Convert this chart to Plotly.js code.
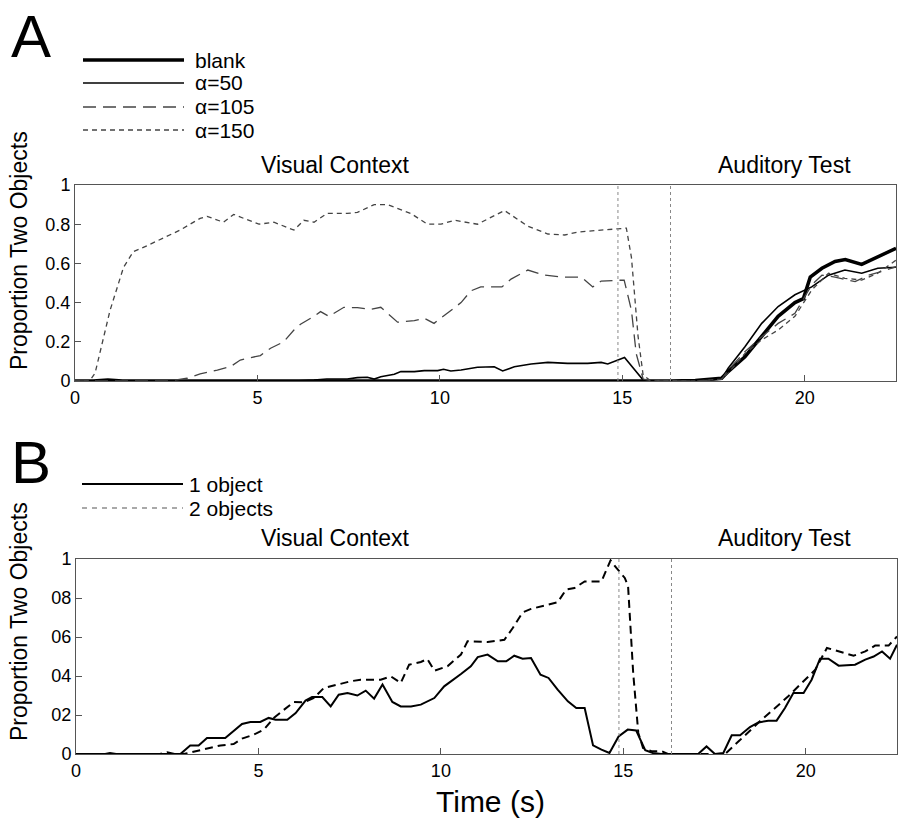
<!DOCTYPE html>
<html><head><meta charset="utf-8">
<script src="https://cdn.plot.ly/plotly-3.0.1.min.js"></script>
<style>html,body{margin:0;padding:0;background:#fff}#chart{width:909px;height:825px}</style>
</head><body><div id="chart"></div>
<script>
// ---------- Data ----------
const xTicks = [0, 5, 10, 15, 20];
const yTicks = [0, 0.2, 0.4, 0.6, 0.8, 1];
const yTickTextA = ['0', '0.2', '0.4', '0.6', '0.8', '1'];
const yTickTextB = ['0', '02', '04', '06', '08', '1'];
const phaseBoundaries = [14.88, 16.32];
const phaseLabels = ['Visual Context', 'Auditory Test'];

// Panel A
const namesA = ['blank', 'α=50', 'α=105', 'α=150'];
const tBlank = [0, 0.5, 0.9, 1.3, 16.3, 17.0, 17.72, 17.9, 18.36, 18.82, 19.27, 19.73, 19.96, 20.15, 20.47, 20.83, 21.11, 21.56, 22.02, 22.5];
const vBlank = [0, 0, 0.005, 0, 0, 0.003, 0.014, 0.048, 0.124, 0.226, 0.33, 0.40, 0.42, 0.53, 0.575, 0.61, 0.62, 0.595, 0.634, 0.677];

const tA50 = [0, 6.0, 6.55, 6.9, 7.46, 7.74, 8.01, 8.2, 8.38, 8.75, 8.93, 9.3, 9.57, 9.94, 10.1, 10.3, 10.58, 11.03, 11.49, 11.72, 12.04, 12.5, 12.96, 13.5, 14.05, 14.42, 14.6, 15.06, 15.57, 15.66, 17.0, 17.72, 17.9, 18.36, 18.82, 19.27, 19.73, 20.19, 20.65, 21.1, 21.56, 22.0, 22.5];
const vA50 = [0, 0, 0.005, 0.01, 0.01, 0.017, 0.019, 0.01, 0.022, 0.034, 0.048, 0.048, 0.053, 0.053, 0.06, 0.051, 0.056, 0.07, 0.073, 0.051, 0.073, 0.087, 0.095, 0.09, 0.09, 0.095, 0.087, 0.12, 0.005, 0, 0, 0.01, 0.065, 0.175, 0.294, 0.38, 0.44, 0.48, 0.54, 0.566, 0.55, 0.575, 0.58];

const tA105 = [0, 2.6, 3.07, 3.43, 3.9, 4.26, 4.53, 4.9, 5.08, 5.36, 5.72, 6.0, 6.18, 6.55, 6.73, 6.96, 7.37, 7.74, 8.1, 8.38, 8.84, 9.3, 9.57, 9.84, 10.1, 10.58, 10.85, 11.12, 11.7, 11.95, 12.41, 12.87, 13.33, 13.88, 14.19, 14.42, 15.05, 15.25, 15.38, 15.57, 15.84, 17.0, 17.72, 17.9, 18.36, 18.82, 19.27, 19.73, 20.19, 20.47, 20.83, 21.38, 21.74, 22.1, 22.5];
const vA105 = [0, 0, 0.014, 0.036, 0.056, 0.073, 0.107, 0.12, 0.13, 0.167, 0.20, 0.26, 0.29, 0.33, 0.354, 0.33, 0.376, 0.374, 0.366, 0.376, 0.30, 0.308, 0.32, 0.294, 0.33, 0.40, 0.46, 0.48, 0.48, 0.52, 0.566, 0.54, 0.53, 0.53, 0.48, 0.51, 0.515, 0.36, 0.14, 0.01, 0, 0, 0.008, 0.055, 0.15, 0.226, 0.294, 0.345, 0.49, 0.54, 0.53, 0.507, 0.54, 0.558, 0.583];

const tA150 = [0, 0.4, 0.55, 0.96, 1.33, 1.6, 1.97, 2.61, 2.88, 3.43, 3.62, 4.07, 4.35, 4.62, 5.04, 5.45, 6.0, 6.27, 6.55, 6.91, 7.46, 7.74, 8.2, 8.56, 9.2, 9.66, 10.03, 10.4, 11.03, 11.77, 12.41, 12.96, 13.42, 13.78, 14.42, 15.11, 15.25, 15.43, 15.57, 15.75, 17.0, 17.72, 17.9, 18.36, 18.82, 19.27, 19.73, 20.19, 20.65, 21.1, 21.56, 22.0, 22.38, 22.5];
const vA150 = [0, 0, 0.04, 0.36, 0.58, 0.66, 0.69, 0.745, 0.77, 0.83, 0.84, 0.81, 0.85, 0.83, 0.80, 0.81, 0.77, 0.82, 0.81, 0.855, 0.855, 0.86, 0.90, 0.90, 0.855, 0.80, 0.80, 0.82, 0.80, 0.87, 0.79, 0.75, 0.745, 0.76, 0.77, 0.78, 0.63, 0.23, 0.03, 0.005, 0, 0.01, 0.04, 0.14, 0.21, 0.26, 0.33, 0.464, 0.55, 0.524, 0.515, 0.55, 0.60, 0.617];

// Panel B
const namesB = ['1 object', '2 objects'];
const tOne = [0, 0.8, 0.93, 1.1, 2.86, 3.13, 3.36, 3.59, 4.09, 4.32, 4.55, 4.78, 5.05, 5.28, 5.47, 5.79, 6.02, 6.29, 6.47, 6.75, 6.98, 7.2, 7.44, 7.71, 7.94, 8.17, 8.4, 8.67, 8.9, 9.18, 9.45, 9.82, 10.09, 10.55, 10.82, 11.01, 11.28, 11.56, 11.79, 12.01, 12.24, 12.47, 12.73, 12.95, 13.2, 13.48, 13.71, 13.94, 14.17, 14.4, 14.62, 14.87, 15.12, 15.35, 15.6, 15.81, 16.04, 17.05, 17.28, 17.51, 17.74, 17.97, 18.2, 18.47, 18.7, 18.97, 19.2, 19.43, 19.66, 19.94, 20.16, 20.39, 20.62, 20.9, 21.35, 21.63, 21.86, 22.09, 22.31, 22.5];
const vOne = [0, 0, 0.005, 0, 0, 0.043, 0.043, 0.082, 0.082, 0.116, 0.154, 0.164, 0.164, 0.185, 0.176, 0.176, 0.21, 0.274, 0.292, 0.292, 0.244, 0.304, 0.313, 0.30, 0.325, 0.284, 0.356, 0.267, 0.244, 0.244, 0.253, 0.287, 0.347, 0.41, 0.45, 0.497, 0.51, 0.475, 0.475, 0.504, 0.489, 0.492, 0.407, 0.39, 0.33, 0.27, 0.236, 0.236, 0.044, 0.022, 0.005, 0.09, 0.125, 0.121, 0.019, 0.005, 0, 0, 0.039, 0, 0.005, 0.096, 0.096, 0.138, 0.162, 0.171, 0.171, 0.236, 0.313, 0.313, 0.381, 0.489, 0.489, 0.453, 0.458, 0.484, 0.50, 0.526, 0.489, 0.56];

const tTwo = [0, 2.3, 2.5, 2.7, 2.95, 3.22, 3.59, 3.96, 4.32, 4.55, 4.87, 5.15, 5.42, 5.7, 5.97, 6.25, 6.52, 6.79, 7.16, 7.53, 7.8, 8.35, 8.63, 8.9, 9.13, 9.45, 9.63, 9.82, 10.18, 10.55, 10.73, 11.28, 11.74, 11.97, 12.24, 12.47, 13.2, 13.43, 13.66, 13.94, 14.4, 14.65, 14.81, 15.04, 15.13, 15.27, 15.41, 15.54, 15.77, 16.04, 16.22, 17.79, 18.16, 18.44, 18.79, 19.16, 19.52, 19.89, 20.26, 20.58, 20.9, 21.31, 21.63, 21.9, 22.27, 22.5];
const vTwo = [0, 0, 0.009, 0, 0, 0.012, 0.026, 0.044, 0.051, 0.079, 0.099, 0.125, 0.185, 0.227, 0.267, 0.265, 0.287, 0.338, 0.356, 0.373, 0.381, 0.381, 0.398, 0.364, 0.458, 0.472, 0.487, 0.427, 0.45, 0.51, 0.578, 0.574, 0.586, 0.646, 0.726, 0.744, 0.778, 0.843, 0.851, 0.885, 0.885, 0.993, 0.954, 0.903, 0.86, 0.415, 0.108, 0.031, 0.014, 0.015, 0, 0, 0.065, 0.116, 0.176, 0.236, 0.296, 0.364, 0.432, 0.544, 0.526, 0.504, 0.526, 0.556, 0.556, 0.603];

// ---------- Styles ----------
const FONT = 'Liberation Sans, Arial, Helvetica, sans-serif';
const W = 909, H = 825;
const px = x => x / W;
const py = y => 1 - y / H;

const stylesA = [
  {color: '#000', width: 3.5, dash: 'solid'},
  {color: '#000', width: 1.6, dash: 'solid'},
  {color: '#444', width: 1.3, dash: '13px,7px'},
  {color: '#444', width: 1.3, dash: '5px,4px'}
];
const stylesB = [
  {color: '#000', width: 2, dash: 'solid'},
  {color: '#000', width: 2, dash: '8px,5px'}
];
const legendStylesB = [
  {color: '#000', width: 2, dash: 'solid'},
  {color: '#555', width: 1.2, dash: '5px,5px'}
];

const seriesA = [[tBlank, vBlank], [tA50, vA50], [tA105, vA105], [tA150, vA150]];
const seriesB = [[tOne, vOne], [tTwo, vTwo]];

const traces = [];
seriesA.forEach((s, i) => traces.push({
  x: s[0], y: s[1], type: 'scatter', mode: 'lines', name: namesA[i],
  xaxis: 'x', yaxis: 'y', line: stylesA[i], showlegend: false, hoverinfo: 'skip'
}));
seriesB.forEach((s, i) => traces.push({
  x: s[0], y: s[1], type: 'scatter', mode: 'lines', name: namesB[i],
  xaxis: 'x2', yaxis: 'y2', line: stylesB[i], showlegend: false, hoverinfo: 'skip'
}));

const axisCommon = {
  range: [0, 22.5], tickvals: xTicks, ticktext: xTicks.map(String),
  ticks: 'inside', ticklen: 6, tickcolor: '#555', tickwidth: 1,
  showline: true, mirror: true, linecolor: '#555', linewidth: 1,
  showgrid: false, zeroline: false,
  tickfont: {family: FONT, size: 18, color: '#000'}
};
const yCommon = {
  range: [0, 1], tickvals: yTicks,
  ticks: 'inside', ticklen: 6, tickcolor: '#555', tickwidth: 1,
  showline: true, mirror: true, linecolor: '#555', linewidth: 1,
  showgrid: false, zeroline: false,
  tickfont: {family: FONT, size: 18, color: '#000'}
};

const shapes = [];
phaseBoundaries.forEach(b => {
  shapes.push({type: 'line', xref: 'x', yref: 'y domain', x0: b, x1: b, y0: 0, y1: 1,
    line: {color: '#888', width: 1, dash: 'dot'}});
  shapes.push({type: 'line', xref: 'x2', yref: 'y2 domain', x0: b, x1: b, y0: 0, y1: 1,
    line: {color: '#888', width: 1, dash: 'dot'}});
});

const annotations = [];
function txt(text, x, y, size, opts) {
  annotations.push(Object.assign({
    text: text, xref: 'paper', yref: 'paper', x: px(x), y: py(y),
    showarrow: false, xanchor: 'center', yanchor: 'middle', borderpad: 0,
    font: {family: FONT, size: size, color: '#000'}
  }, opts || {}));
}

// Panel letters
txt('A', 10, 37, 60, {xanchor: 'left'});
txt('B', 10, 462, 60, {xanchor: 'left'});

// Legends (drawn from names/styles)
const legAy = [60, 83, 107, 130];
namesA.forEach((n, i) => {
  shapes.push({type: 'line', xref: 'paper', yref: 'paper', x0: px(83), x1: px(184),
    y0: py(legAy[i]), y1: py(legAy[i]), line: stylesA[i]});
  txt(n, 194, legAy[i], 21, {xanchor: 'left'});
});
const legBy = [484, 508];
namesB.forEach((n, i) => {
  shapes.push({type: 'line', xref: 'paper', yref: 'paper', x0: px(82), x1: px(183),
    y0: py(legBy[i]), y1: py(legBy[i]), line: legendStylesB[i]});
  txt(n, 188, legBy[i], 21, {xanchor: 'left'});
});

// Phase labels
txt(phaseLabels[0], 335, 165, 23);
txt(phaseLabels[1], 784, 165, 23);
txt(phaseLabels[0], 335, 538, 23);
txt(phaseLabels[1], 784, 538, 23);

// Y titles
txt('Proportion Two Objects', 19, 251, 23, {textangle: -90});
txt('Proportion Two Objects', 19, 622, 23, {textangle: -90});

// X title
txt('Time (s)', 490, 801, 30);

const layout = {
  width: W, height: H,
  margin: {l: 0, r: 0, t: 0, b: 0},
  paper_bgcolor: '#fff', plot_bgcolor: '#fff',
  showlegend: false,
  xaxis: Object.assign({}, axisCommon, {domain: [px(75), px(896)], anchor: 'y'}),
  yaxis: Object.assign({}, yCommon, {domain: [py(381), py(185)], anchor: 'x', ticktext: yTickTextA}),
  xaxis2: Object.assign({}, axisCommon, {domain: [px(76), px(897)], anchor: 'y2'}),
  yaxis2: Object.assign({}, yCommon, {domain: [py(754), py(559)], anchor: 'x2', ticktext: yTickTextB}),
  shapes: shapes,
  annotations: annotations
};

Plotly.newPlot('chart', traces, layout, {displayModeBar: false, staticPlot: true});
</script></body></html>
